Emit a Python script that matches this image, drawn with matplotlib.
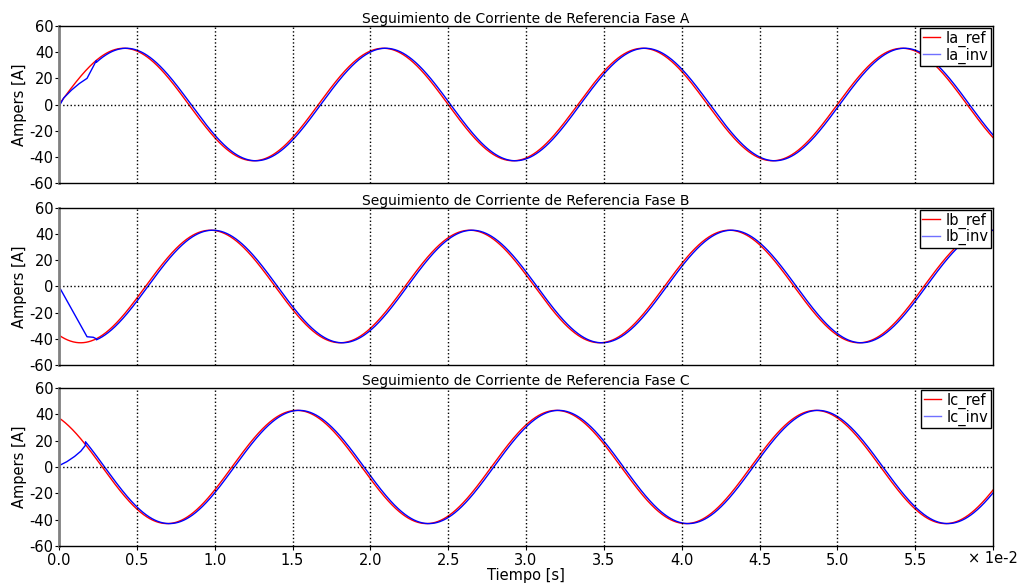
import matplotlib
matplotlib.use("Agg")
import matplotlib.pyplot as plt
import numpy as np
from matplotlib.ticker import FuncFormatter

# values
amp = 43.0            # peak current [A]
freq = 60.0           # Hz
phases_deg = [0, -120, 120]
lag = 0.00015         # inverter current lag behind reference [s]
t_end = 0.06

phase_names = ["A", "B", "C"]
ref_labels = ["Ia_ref", "Ib_ref", "Ic_ref"]
inv_labels = ["Ia_inv", "Ib_inv", "Ic_inv"]

# start-up transients of the inverter current (t [s], i [A])
trans_t = [
    [0.0, 0.0003, 0.0008, 0.0013, 0.0018, 0.0024],
    [0.0, 0.0018, 0.0022, 0.0024],
    [0.0, 0.0005, 0.0010, 0.0014, 0.0017],
]
trans_i = [
    [-1.5, 5.0, 11.0, 16.0, 20.0, 33.6],
    [0.0, -38.4, -38.8, -40.0],
    [1.0, 4.0, 8.0, 12.0, 16.5],
]

xticks = [0.0, 0.005, 0.01, 0.015, 0.02, 0.025, 0.03, 0.035, 0.04, 0.045, 0.05, 0.055, 0.06]
yticks = [-60, -40, -20, 0, 20, 40, 60]

plt.rcParams['font.family'] = ['DejaVu Sans']
plt.rcParams['font.size'] = 10
plt.rcParams['axes.unicode_minus'] = False

fig = plt.figure(figsize=(10.21, 5.86), dpi=100)
boxes = [(0.0578, 0.6877, 0.9148, 0.2679),
         (0.0578, 0.3771, 0.9148, 0.2680),
         (0.0578, 0.0683, 0.9148, 0.2696)]

t = np.linspace(0, t_end, 3000)
for k in range(3):
    ax = fig.add_axes(boxes[k])
    ph = np.deg2rad(phases_deg[k])
    ref = amp * np.sin(2 * np.pi * freq * t + ph)
    t0 = trans_t[k][-1]
    tt = t[t > t0]
    inv_t = np.concatenate([trans_t[k], tt])
    inv_i = np.concatenate([trans_i[k],
                            amp * np.sin(2 * np.pi * freq * (tt - lag) + ph)])
    ax.plot(t, ref, color='red', lw=1.0, label=ref_labels[k])
    ax.plot(inv_t, inv_i, color='blue', lw=1.0, label=inv_labels[k])
    ax.set_xlim(0, t_end)
    ax.set_ylim(-60, 60)
    ax.set_xticks(xticks)
    ax.set_yticks(yticks)
    # dotted grid: vertical at each tick, horizontal only at zero
    for x in xticks[1:-1]:
        ax.axvline(x, color='black', ls=':', lw=1)
    ax.axhline(0, color='black', ls=':', lw=1)
    ax.set_title("Seguimiento de Corriente de Referencia Fase " + phase_names[k],
                 fontsize=10, pad=2)
    ax.set_ylabel("Ampers [A]", fontsize=10.5, labelpad=2)
    ax.tick_params(axis='y', direction='out', length=3, pad=1, labelsize=10.5)
    ax.tick_params(axis='x', direction='out', length=3, pad=2, labelsize=10.5)
    for s in ['top', 'right', 'bottom']:
        ax.spines[s].set_color('black')
        ax.spines[s].set_linewidth(1)
    ax.spines['left'].set_color('#808080')
    ax.spines['left'].set_linewidth(2)
    leg = ax.legend(loc='upper right', fontsize=10.5, frameon=True, fancybox=False,
                    borderaxespad=0.15, handlelength=1.2, handletextpad=0.4,
                    borderpad=0.15, labelspacing=0.05)
    leg.get_frame().set_edgecolor('black')
    leg.get_frame().set_linewidth(1)
    leg.get_frame().set_alpha(1)
    leg.get_lines()[1].set_color('#7070ff')
    if k < 2:
        ax.tick_params(axis='x', labelbottom=False, length=0)
    else:
        ax.xaxis.set_major_formatter(FuncFormatter(
            lambda v, p: "" if v > 0.0575 else "%.1f" % (v * 100)))
        ax.set_xlabel("Tiempo [s]", fontsize=10.5, labelpad=0)
        ax.text(1.0, -0.03, "\u00d7 1e-2", transform=ax.transAxes,
                ha='center', va='top', fontsize=10.5)

fig.savefig("out.png", dpi=100)
